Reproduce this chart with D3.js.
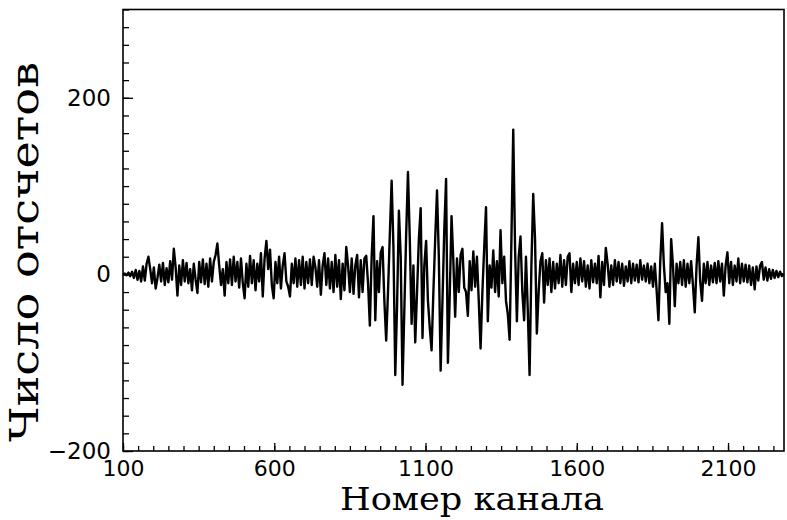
<!DOCTYPE html>
<html>
<head>
<meta charset="utf-8">
<script src="https://cdn.jsdelivr.net/npm/d3@7"></script>
<style>
  html, body { margin: 0; padding: 0; background: #fff; }
  svg { display: block; }
</style>
</head>
<body>
<svg id="chart" width="787" height="520"></svg>
<script>
// ---------- data ----------
const xTickLabels = [100, 600, 1100, 1600, 2100];
const yTickLabels = [-200, 0, 200];
const xDomain = [100, 2285];
const yDomain = [-200, 300];
const channelStart = 100;
const channelStep = 6;
const xLabel = "Номер канала";
const yLabel = "Число отсчетов";
const counts = [
  0, 1, -1, 2, -2, 3, -4, 5, -6, 4,
  -8, 9, -7, 12, 20, 6, -10, 8, -16, -4,
  11, -8, 13, -12, 7, -9, 15, -6, 29, 8,
  -24, 10, -12, 16, -8, 13, -10, 6, -18, 12,
  -6, -21, 14, -9, 17, -11, 12, -14, 18, -8,
  14, 22, 35, 10, -12, 6, -24, 14, -10, 17,
  -12, 20, -8, 14, -15, 18, -10, -27, 12, -14,
  21, -10, 16, -18, 12, -8, 24, -25, 18, 38,
  6, 28, -12, -27, 14, -10, 20, -16, 10, 24,
  -8, -14, -25, 12, -10, 18, -14, 16, -12, 20,
  -16, 14, -10, 17, -12, 20, 8, -14, 16, -23,
  10, 24, -12, 18, -16, 14, -20, 22, -14, 16,
  -28, 12, -18, 31, 10, -20, 18, -22, 10, 22,
  -26, 16, -20, 18, 21, -10, -58, 20, 66, -52,
  15, -20, 25, 31, -30, -75, -20, 45, 106, 30,
  -114, -35, 72, 20, -125, -40, 45, 116, 40, -56,
  10, -77, -20, 40, 75, -72, 10, 38, -30, -60,
  -86, -20, 40, 95, 20, -109, -30, 50, 108, -100,
  -25, 66, 15, -48, 18, -20, 22, 29, -15, -20,
  -47, 15, -18, 26, -14, 20, -30, -84, -20, 30,
  76, -53, 10, -15, 27, -20, 15, -25, 50, -10,
  20, -30, -45, -74, 40, 164, 30, -53, 20, 43,
  -20, -52, 20, -40, -114, 10, 91, 40, -67, -20,
  15, 24, -32, 16, -12, 18, -20, 14, -16, 12,
  -10, 22, -14, 16, -12, 20, 24, -20, 12, -10,
  14, -12, 18, -8, 15, -14, 10, -16, 16, -9,
  12, -10, 21, -26, 14, -12, 30, 12, -14, 10,
  -12, 16, -8, 14, -10, 12, -13, 9, -8, 15,
  -10, 12, -7, 11, -9, 16, -6, 10, -8, 12,
  -10, 9, -14, 12, -18, -52, 15, 58, 10, -20,
  -10, -56, 40, 10, -36, 12, -10, 14, -12, 16,
  -14, 12, -10, 15, -12, -43, 10, 42, -8, -30,
  12, -10, 14, -12, 10, -9, 13, -10, 15, -8,
  12, -24, 10, 25, -10, 14, -12, 10, -8, 18,
  -10, 12, -8, 11, -9, 10, -12, 8, -17, 9,
  -7, 10, 14, -6, 8, -7, 6, -5, 5, -4,
  4, -3, 3, -2, 1
];

// ---------- layout ----------
const plot = { left: 123, right: 784, top: 9.5, bottom: 451 };
const svg = d3.select("#chart");

const x = d3.scaleLinear().domain(xDomain).range([plot.left, plot.right]);
const y = d3.scaleLinear().domain(yDomain).range([plot.bottom, plot.top]);

const tickFont = "'DejaVu Sans', sans-serif";
const labelFont = "'DejaVu Serif', serif";
const fmt = d => d < 0 ? "\u2212" + Math.abs(d) : String(d);

// minor ticks
const xMinor = d3.range(xDomain[0], xDomain[1], 50);
const yMinor = d3.range(yDomain[0], yDomain[1] + 1, 20);

svg.append("g")
  .attr("transform", `translate(0,${plot.bottom})`)
  .call(d3.axisBottom(x).tickValues(xMinor).tickSize(-5).tickFormat(""))
  .call(g => g.select(".domain").remove())
  .call(g => g.selectAll("line").attr("stroke", "#000").attr("stroke-width", 1.3));

svg.append("g")
  .attr("transform", `translate(0,${plot.bottom})`)
  .call(d3.axisBottom(x).tickValues(xTickLabels).tickSize(-8).tickPadding(9).tickFormat(fmt))
  .call(g => g.select(".domain").remove())
  .call(g => g.selectAll("line").attr("stroke", "#000").attr("stroke-width", 1.3))
  .call(g => g.selectAll("text")
    .attr("font-family", tickFont).attr("font-size", 22).attr("fill", "#000"));

svg.append("g")
  .attr("transform", `translate(${plot.left},0)`)
  .call(d3.axisLeft(y).tickValues(yMinor).tickSize(-6).tickFormat(""))
  .call(g => g.select(".domain").remove())
  .call(g => g.selectAll("line").attr("stroke", "#000").attr("stroke-width", 1.3));

svg.append("g")
  .attr("transform", `translate(${plot.left},0)`)
  .call(d3.axisLeft(y).tickValues(yTickLabels).tickSize(-10).tickPadding(12).tickFormat(fmt))
  .call(g => g.select(".domain").remove())
  .call(g => g.selectAll("line").attr("stroke", "#000").attr("stroke-width", 1.3))
  .call(g => g.selectAll("text")
    .attr("font-family", tickFont).attr("font-size", 23).attr("fill", "#000"));

// frame
svg.append("rect")
  .attr("x", x(xDomain[0])).attr("y", y(yDomain[1]))
  .attr("width", x(xDomain[1]) - x(xDomain[0]))
  .attr("height", y(yDomain[0]) - y(yDomain[1]))
  .attr("fill", "none").attr("stroke", "#000").attr("stroke-width", 1.6);

// signal
const line = d3.line()
  .x((d, i) => x(channelStart + i * channelStep))
  .y(d => y(d));

svg.append("path")
  .datum(counts)
  .attr("d", line)
  .attr("fill", "none")
  .attr("stroke", "#000")
  .attr("stroke-width", 2.4)
  .attr("stroke-linejoin", "round");

// axis titles
svg.append("text")
  .attr("x", 472).attr("y", 510)
  .attr("text-anchor", "middle")
  .attr("font-family", labelFont).attr("font-size", 31)
  .attr("textLength", 264).attr("lengthAdjust", "spacingAndGlyphs")
  .attr("fill", "#000")
  .text(xLabel);

svg.append("text")
  .attr("transform", "translate(38,252) rotate(-90)")
  .attr("text-anchor", "middle")
  .attr("font-family", labelFont).attr("font-size", 40)
  .attr("textLength", 380).attr("lengthAdjust", "spacingAndGlyphs")
  .attr("fill", "#000")
  .text(yLabel);
</script>
</body>
</html>
